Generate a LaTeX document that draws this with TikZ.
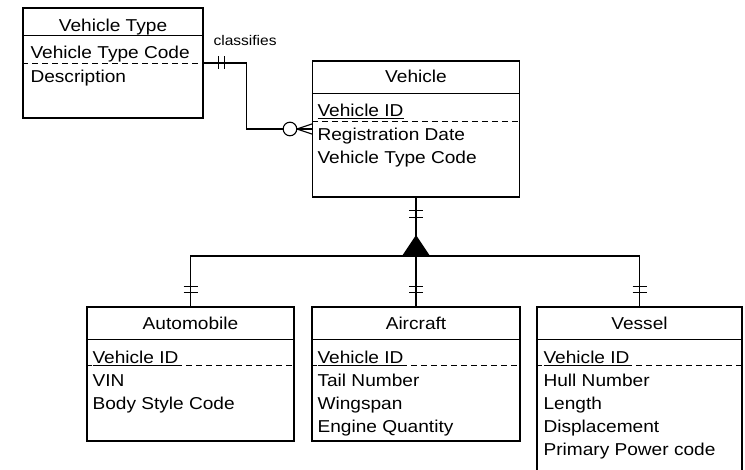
\documentclass[tikz,border=0pt]{standalone}
\usepackage{fontspec}
\setmainfont{Liberation Sans}[FakeStretch=1.11]

\begin{document}
\begin{tikzpicture}[x=1pt, y=-1pt, line width=1.1pt,
    ent/.style={draw, rectangle, inner sep=0pt},
    ttl/.style={anchor=base, inner sep=0pt, font=\fontsize{17.2}{20}\selectfont},
    att/.style={anchor=base west, inner sep=0pt, font=\fontsize{17.2}{20}\selectfont},
    sep/.style={dash pattern=on 6pt off 4pt, line width=0.9pt},
    lbl/.style={anchor=base west, inner sep=0pt, font=\fontsize{14}{16}\selectfont}
]
\useasboundingbox (0,0) rectangle (745,470);

\node[ent, minimum width=180pt, minimum height=110pt] (vtype) at (113,63) {};
\node[ent, minimum width=207pt, minimum height=136pt] (veh) at (416,129) {};
\node[ent, minimum width=207pt, minimum height=134pt] (auto) at (190.5,374) {};
\node[ent, minimum width=208pt, minimum height=134pt] (air) at (416,374) {};
\node[ent, minimum width=205pt, minimum height=190pt] (vessel) at (639.5,402) {};

\draw ([yshift=-28pt]vtype.north west) -- ([yshift=-28pt]vtype.north east);
\draw[sep] ([yshift=-56pt]vtype.north west) -- ([yshift=-56pt]vtype.north east);
\draw ([yshift=-33pt]veh.north west) -- ([yshift=-33pt]veh.north east);
\draw[sep] ([yshift=-61pt]veh.north west) -- ([yshift=-61pt]veh.north east);
\foreach \e in {auto,air,vessel} {
  \draw ([yshift=-33pt]\e.north west) -- ([yshift=-33pt]\e.north east);
  \draw[sep] ([yshift=-59pt]\e.north west) -- ([yshift=-59pt]\e.north east);
}

\node[ttl] (vtypeT) at (113,32) {Vehicle Type};
\node[att] (vtypeCode) at (30,59) {Vehicle Type Code};
\node[att] (vtypeDesc) at (30,83) {Description};

\node[ttl] (vehT) at (416,83) {Vehicle};
\node[att] (vehId) at (317,117) {\underline{Vehicle ID}};
\node[att] (vehReg) at (317,141) {Registration Date};
\node[att] (vehType) at (317,164) {Vehicle Type Code};

\node[ttl] (autoT) at (190.5,330) {Automobile};
\node[att] (autoId) at (92,364) {\underline{Vehicle ID}};
\node[att] (autoVin) at (92,387) {VIN};
\node[att] (autoBody) at (92,410) {Body Style Code};

\node[ttl] (airT) at (416,330) {Aircraft};
\node[att] (airId) at (317,364) {\underline{Vehicle ID}};
\node[att] (airTail) at (317,387) {Tail Number};
\node[att] (airWing) at (317,410) {Wingspan};
\node[att] (airEng) at (317,433) {Engine Quantity};

\node[ttl] (vesselT) at (639.5,330) {Vessel};
\node[att] (vesselId) at (543,364) {\underline{Vehicle ID}};
\node[att] (vesselHull) at (543,387) {Hull Number};
\node[att] (vesselLen) at (543,410) {Length};
\node[att] (vesselDisp) at (543,433) {Displacement};
\node[att] (vesselPow) at (543,456) {Primary Power code};

\draw (vtype.east) -- ++(43,0) |- (veh.west);
\node[lbl] (rel) at (213,46) {classifies};
\foreach \dx in {15,21}
  \draw ([xshift=\dx pt,yshift=6.5pt]vtype.east) -- ([xshift=\dx pt,yshift=-6.5pt]vtype.east);
\draw[fill=white] ([xshift=-22pt]veh.west) circle (6.8pt);
\draw ([xshift=-15pt]veh.west) -- ([yshift=5pt]veh.west);
\draw ([xshift=-15pt]veh.west) -- ([yshift=-5pt]veh.west);

\coordinate (isa) at (416,256);
\draw (veh.south) -- (air.north);
\draw (auto.north) |- (isa) -| (vessel.north);
\fill ([xshift=-14pt]isa) -- ([yshift=21pt]isa) -- ([xshift=14pt]isa) -- cycle;
\foreach \dy in {-13,-20}
  \draw ([xshift=-7pt,yshift=\dy pt]veh.south) -- ([xshift=7pt,yshift=\dy pt]veh.south);
\foreach \e in {auto,air,vessel}
  \foreach \dy in {14,20}
    \draw ([xshift=-7pt,yshift=\dy pt]\e.north) -- ([xshift=7pt,yshift=\dy pt]\e.north);
\end{tikzpicture}
\end{document}
